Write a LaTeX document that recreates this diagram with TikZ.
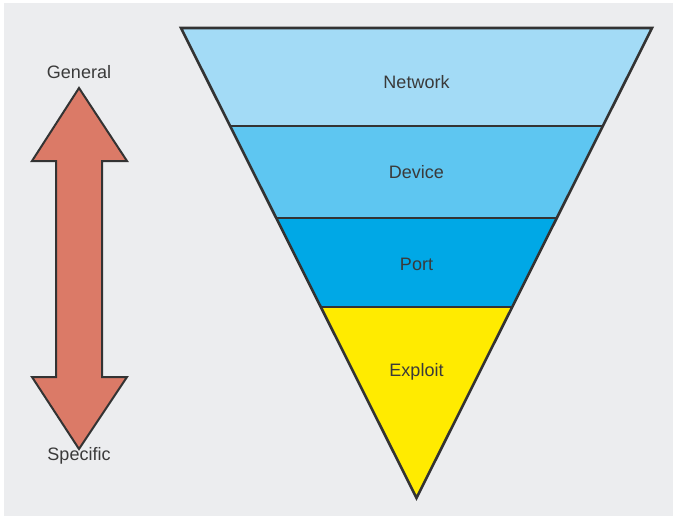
\documentclass[tikz,border=0pt]{standalone}
\usepackage{fontspec}
\setmainfont{Liberation Sans}
\definecolor{bgpanel}{HTML}{ECEDEF}
\definecolor{edge}{HTML}{333333}
\definecolor{txt}{HTML}{3A3A3A}
\definecolor{netblue}{HTML}{A3DBF6}
\definecolor{devblue}{HTML}{5EC6F1}
\definecolor{portblue}{HTML}{00A8E6}
\definecolor{exploityellow}{HTML}{FFEB00}
\definecolor{arrowred}{HTML}{DB7A67}
\tikzset{
  lbl/.style={font=\fontsize{18}{21}\selectfont, text=txt, inner sep=0pt, anchor=center},
  band/.style={draw=edge, line width=2.2pt},
}
\begin{document}
\begin{tikzpicture}[x=1pt,y=-1pt]
\useasboundingbox (0,0) rectangle (675,519);
% panel
\fill[bgpanel] (4,3) rectangle (673,516);

% funnel bands (left edge x = 181 + (y-28)/2, right edge symmetric about x = 416.5)
\fill[netblue]       (181,28) -- (652,28) -- (603,126) -- (230,126) -- cycle;
\fill[devblue]       (230,126) -- (603,126) -- (557,218) -- (276,218) -- cycle;
\fill[portblue]      (276,218) -- (557,218) -- (512.5,307) -- (320.5,307) -- cycle;
\fill[exploityellow] (320.5,307) -- (512.5,307) -- (416.5,498) -- cycle;

% band separators
\draw[band] (230,126) -- (603,126);
\draw[band] (276,218) -- (557,218);
\draw[band] (320.5,307) -- (512.5,307);

% funnel outline
\draw[draw=edge, line width=2.6pt, line join=miter] (181,28) -- (652,28) -- (416.5,498) -- cycle;

\node[lbl] (network) at (416.5,82) {Network};
\node[lbl] (device)  at (416.5,172) {Device};
\node[lbl] (port)    at (416.5,264) {Port};
\node[lbl] (exploit) at (416.5,372) {Exploit};

% double-headed arrow
\draw[fill=arrowred, draw=edge, line width=2pt, line join=miter]
  (79,88) -- (127,161) -- (102,161) -- (102,377) -- (127,377) -- (79,449)
  -- (32,377) -- (56,377) -- (56,161) -- (32,161) -- cycle;

\node[lbl] (general)  at (79,72.5) {General};
\node[lbl] (specific) at (79,455.5) {Specific};
\end{tikzpicture}
\end{document}
